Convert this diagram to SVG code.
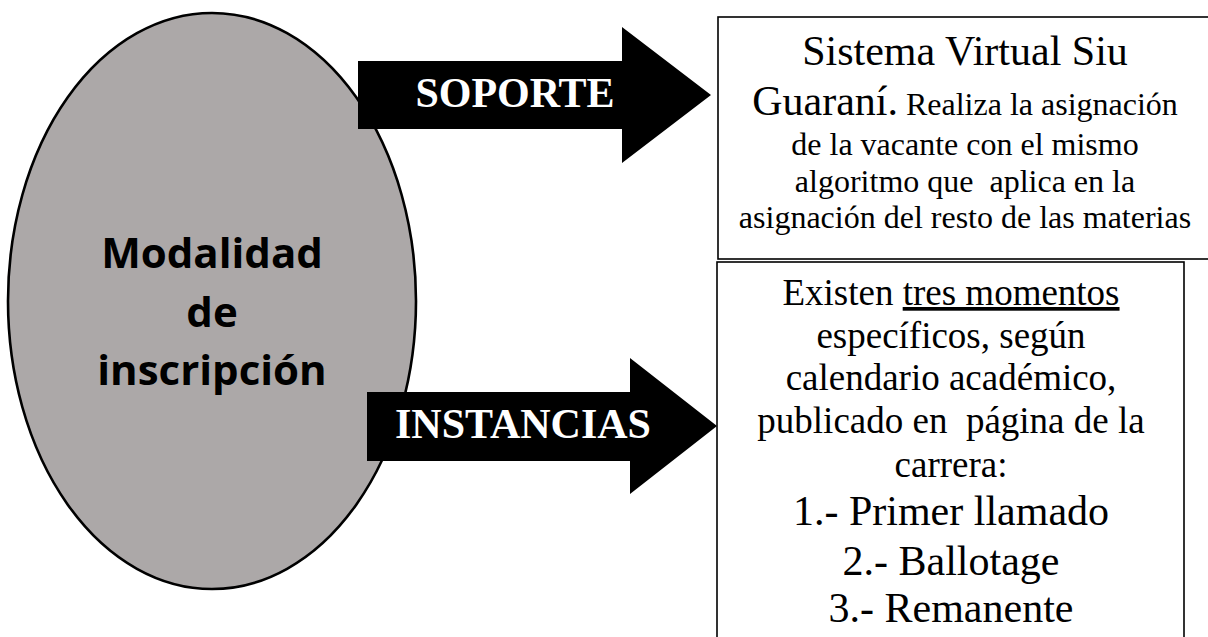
<svg xmlns="http://www.w3.org/2000/svg" width="1208" height="637" viewBox="0 0 1208 637">
<style>
.serif{font-family:"Liberation Serif","Times New Roman",serif;fill:#000;text-anchor:middle}
.lbl{font-family:"Liberation Serif","Times New Roman",serif;font-weight:bold;font-size:42px;fill:#fff;text-anchor:middle}
.oval{font-family:"Open Sans","Liberation Sans",sans-serif;font-weight:bold;font-size:42px;fill:#000;text-anchor:middle}
.box{fill:#fff;stroke:#000;stroke-width:1.6}
.arrow{fill:#000;stroke:none}
</style>
<rect width="1208" height="637" fill="#fff"/>
<g id="node-modalidad">
<ellipse cx="212" cy="301" rx="204" ry="288" fill="#aca8a8" stroke="#000" stroke-width="2.6"/>
<text class="oval" x="212" y="268">Modalidad</text>
<text class="oval" x="212" y="327">de</text>
<text class="oval" x="212" y="385">inscripción</text>
</g>
<g id="node-sistema">
<rect class="box" x="718" y="17" width="500" height="242"/>
<text class="serif" x="965" y="65" font-size="42">Sistema Virtual Siu</text>
<text class="serif" x="965" y="115"><tspan font-size="42">Guaraní.</tspan><tspan font-size="32"> Realiza la asignación</tspan></text>
<text class="serif" x="965" y="155" font-size="32">de la vacante con el mismo</text>
<text class="serif" x="965" y="192" font-size="32" xml:space="preserve">algoritmo que  aplica en la</text>
<text class="serif" x="965" y="228" font-size="32">asignación del resto de las materias</text>
</g>
<g id="node-existen">
<rect class="box" x="717" y="262" width="467" height="390"/>
<text class="serif" x="951" y="305" font-size="37">Existen <tspan text-decoration="underline">tres momentos</tspan></text>
<text class="serif" x="951" y="348" font-size="37">específicos, según</text>
<text class="serif" x="951" y="390" font-size="37">calendario académico,</text>
<text class="serif" x="951" y="433" font-size="37" xml:space="preserve">publicado en  página de la</text>
<text class="serif" x="951" y="477" font-size="37">carrera:</text>
<text class="serif" x="951" y="525" font-size="42">1.- Primer llamado</text>
<text class="serif" x="951" y="575" font-size="42">2.- Ballotage</text>
<text class="serif" x="951" y="622" font-size="42">3.- Remanente</text>
</g>
<g id="connectors">
<g id="arrow-soporte">
<polygon class="arrow" points="358,61 622,61 622,27 711,95 622,163 622,129 358,129"/>
<text class="lbl" x="515" y="107">SOPORTE</text>
</g>
<g id="arrow-instancias">
<polygon class="arrow" points="367,392 630,392 630,358 717,426 630,494 630,461 367,461"/>
<text class="lbl" x="523" y="438">INSTANCIAS</text>
</g>
</g>
</svg>
